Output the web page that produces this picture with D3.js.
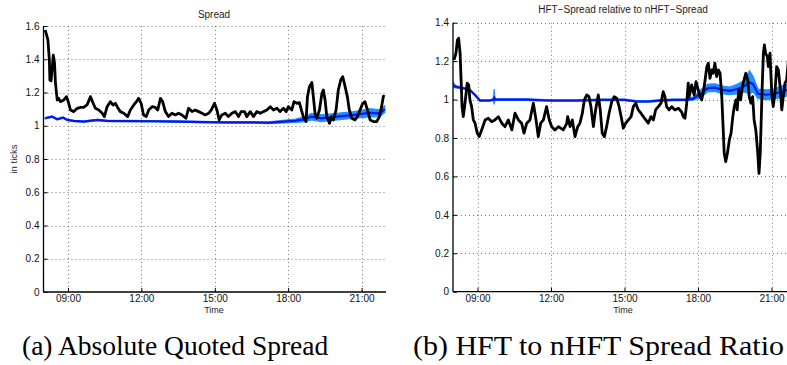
<!DOCTYPE html>
<html>
<head>
<meta charset="utf-8">
<script src="https://cdn.jsdelivr.net/npm/d3@7"></script>
<style>
  html, body { margin: 0; padding: 0; background: #fff; }
  svg { display: block; }
</style>
</head>
<body>
<svg id="chart" width="787" height="365"></svg>
<script>
// ---------------- DATA ----------------
const xTickHours = [9, 12, 15, 18, 21];
const xTickLabels = ["09:00", "12:00", "15:00", "18:00", "21:00"];
const yTicksLeft = [0, 0.2, 0.4, 0.6, 0.8, 1, 1.2, 1.4, 1.6];
const yTicksRight = [0, 0.2, 0.4, 0.6, 0.8, 1, 1.2, 1.4];

// Panel (a): absolute quoted spread, HFT (black) and nHFT (blue)
const leftBlackT = [8.07,8.18,8.24,8.26,8.31,8.40,8.45,8.49,8.56,8.62,8.69,8.83,8.94,9.03,9.10,9.24,9.38,9.51,9.64,9.78,9.92,10.03,10.12,10.26,10.40,10.49,10.60,10.73,10.84,10.94,11.03,11.14,11.28,11.44,11.55,11.69,11.80,11.89,11.99,12.09,12.20,12.30,12.44,12.57,12.67,12.78,12.87,12.98,13.11,13.25,13.39,13.52,13.66,13.82,13.93,14.07,14.20,14.34,14.48,14.61,14.75,14.86,14.99,15.09,15.18,15.29,15.43,15.56,15.70,15.84,15.97,16.08,16.22,16.31,16.45,16.58,16.72,16.86,16.99,17.13,17.27,17.40,17.54,17.67,17.81,17.92,18.01,18.15,18.24,18.36,18.46,18.56,18.62,18.73,18.79,18.87,18.97,19.03,19.10,19.17,19.28,19.38,19.44,19.51,19.58,19.69,19.78,19.85,19.96,20.05,20.15,20.23,20.33,20.42,20.50,20.60,20.73,20.83,20.94,21.05,21.14,21.24,21.35,21.48,21.62,21.73,21.82,21.89,21.92];
const leftBlackV = [1.576,1.516,1.395,1.275,1.27,1.425,1.376,1.255,1.155,1.165,1.145,1.155,1.175,1.135,1.095,1.085,1.105,1.111,1.11,1.125,1.175,1.135,1.105,1.095,1.075,1.055,1.115,1.145,1.125,1.135,1.11,1.085,1.075,1.055,1.095,1.125,1.145,1.165,1.135,1.065,1.055,1.095,1.115,1.11,1.095,1.165,1.145,1.085,1.055,1.075,1.065,1.075,1.065,1.045,1.105,1.085,1.095,1.085,1.075,1.065,1.075,1.095,1.135,1.095,1.035,1.065,1.075,1.055,1.075,1.085,1.055,1.085,1.085,1.055,1.085,1.055,1.085,1.075,1.085,1.095,1.115,1.095,1.105,1.085,1.105,1.085,1.115,1.095,1.145,1.135,1.139,1.085,1.055,1.025,1.175,1.235,1.26,1.175,1.075,1.045,1.095,1.195,1.215,1.155,1.055,1.015,1.055,1.035,1.095,1.215,1.275,1.295,1.235,1.175,1.095,1.045,1.035,1.055,1.095,1.135,1.145,1.095,1.035,1.025,1.025,1.055,1.115,1.175,1.185];
const leftBlueT = [8.07,8.35,8.56,8.8,8.97,9.24,9.65,10.2,10.6,11.5,12.5,13.5,14.5,15.5,16.5,17.2,17.8,18.3,18.7,18.95,19.35,20.0,20.7,21.35,21.75,21.95];
const leftBlueV = [1.045,1.055,1.039,1.049,1.035,1.029,1.025,1.035,1.029,1.028,1.027,1.025,1.022,1.02,1.02,1.018,1.025,1.03,1.04,1.055,1.045,1.055,1.065,1.078,1.075,1.1];
const leftBandW = [0.004,0.004,0.004,0.004,0.004,0.004,0.004,0.004,0.004,0.004,0.004,0.004,0.004,0.004,0.004,0.005,0.008,0.01,0.015,0.02,0.02,0.02,0.02,0.025,0.02,0.02];

// Panel (b): HFT spread relative to nHFT spread
const rightBlackT = [8.04,8.12,8.18,8.23,8.29,8.33,8.37,8.42,8.49,8.58,8.64,8.69,8.76,8.83,8.90,8.99,9.07,9.17,9.31,9.44,9.58,9.71,9.85,9.99,10.12,10.26,10.40,10.53,10.67,10.80,10.90,11.01,11.14,11.28,11.39,11.48,11.58,11.69,11.82,11.93,12.03,12.16,12.30,12.50,12.64,12.68,12.78,12.87,12.98,13.09,13.18,13.28,13.36,13.46,13.55,13.63,13.73,13.82,13.93,14.01,14.09,14.18,14.27,14.37,14.48,14.58,14.68,14.78,14.89,14.95,15.05,15.16,15.27,15.36,15.46,15.56,15.67,15.77,15.87,15.97,16.08,16.18,16.27,16.38,16.49,16.58,16.65,16.72,16.82,16.93,17.06,17.20,17.34,17.40,17.47,17.54,17.60,17.64,17.74,17.84,17.92,18.01,18.08,18.15,18.22,18.29,18.36,18.42,18.49,18.56,18.62,18.69,18.76,18.83,18.90,18.97,19.03,19.07,19.13,19.20,19.28,19.35,19.42,19.48,19.55,19.60,19.66,19.74,19.81,19.88,19.95,20.03,20.09,20.16,20.23,20.29,20.36,20.44,20.49,20.54,20.58,20.62,20.67,20.71,20.76,20.83,20.87,20.94,20.98,21.02,21.07,21.14,21.21,21.28,21.35,21.42,21.48,21.55,21.62,21.70,21.80,21.92];
const rightBlackV = [1.206,1.241,1.31,1.319,1.241,1.102,0.963,0.911,0.981,1.085,1.076,0.998,0.963,0.894,0.877,0.825,0.807,0.842,0.894,0.903,0.885,0.894,0.911,0.877,0.859,0.894,0.842,0.929,0.894,0.877,0.825,0.877,0.894,0.981,0.894,0.807,0.877,0.894,0.963,0.894,0.859,0.842,0.859,0.842,0.875,0.911,0.859,0.894,0.807,0.859,0.877,0.929,0.998,1.024,1.015,0.963,0.859,0.946,1.024,0.946,0.825,0.807,0.859,0.929,0.989,1.015,1.007,0.963,0.894,0.851,0.877,0.894,0.911,0.963,0.981,0.946,0.929,0.911,0.894,0.877,0.911,0.894,0.946,0.963,0.981,1.041,1.015,0.963,0.946,0.963,0.946,0.955,0.933,0.911,0.903,0.981,1.085,1.015,1.076,1.024,1.093,1.05,1.015,0.998,1.041,1.102,1.171,1.189,1.111,1.154,1.137,1.189,1.119,1.154,1.137,1.015,0.842,0.72,0.677,0.72,0.79,0.825,0.911,0.963,0.998,0.946,1.05,0.998,1.067,1.102,1.137,1.102,1.015,0.981,1.015,0.894,0.842,0.72,0.616,0.72,0.894,1.067,1.241,1.284,1.241,1.223,1.171,1.241,1.119,1.015,0.963,1.033,1.171,1.154,1.067,0.946,1.015,1.085,1.102,1.22,1.15,1.1];
const rightBlueT = [8.03,8.1,8.42,8.69,8.9,9.1,9.5,9.65,9.68,9.71,10.0,11.0,12.0,13.0,14.0,15.0,15.5,16.0,16.5,17.0,17.5,17.8,18.1,18.4,18.7,19.0,19.3,19.6,19.9,20.1,20.25,20.45,20.8,21.1,21.4,21.65,22.0];
const rightBlueV = [1.075,1.067,1.059,1.05,1.024,0.995,0.995,1.0,1.015,1.0,1.0,1.0,0.995,0.995,0.998,0.998,0.99,0.99,0.996,0.998,0.998,1.005,1.03,1.06,1.062,1.05,1.045,1.055,1.07,1.09,1.08,1.03,1.025,1.03,1.04,1.05,1.04];
const rightBandW = [0.012,0.006,0.004,0.004,0.004,0.004,0.004,0.004,0.04,0.004,0.004,0.004,0.004,0.004,0.004,0.004,0.004,0.004,0.004,0.004,0.004,0.008,0.02,0.02,0.02,0.02,0.02,0.025,0.03,0.06,0.04,0.025,0.025,0.025,0.03,0.03,0.03];

// ---------------- DRAWING ----------------
const svg = d3.select("#chart");
const sans = '"Liberation Sans", Arial, sans-serif';
const serif = '"Liberation Serif", "Times New Roman", serif';

function panel(cfg) {
  const x = d3.scaleLinear().domain([8, 22]).range([cfg.left, cfg.right]);
  const y = d3.scaleLinear().domain([0, cfg.ymax]).range([cfg.bottom, cfg.top]);
  const g = svg.append("g");
  const gridRight = Math.min(cfg.right, 787);

  // grid
  g.append("g").selectAll("line").data(cfg.yTicks.filter(d => d > 0)).join("line")
    .attr("x1", cfg.left).attr("x2", gridRight)
    .attr("y1", d => Math.round(y(d)) + 0.5).attr("y2", d => Math.round(y(d)) + 0.5)
    .attr("stroke", "#555").attr("stroke-width", 0.8).attr("stroke-dasharray", "1,3");
  g.append("g").selectAll("line").data(xTickHours).join("line")
    .attr("x1", d => Math.round(x(d)) + 0.5).attr("x2", d => Math.round(x(d)) + 0.5)
    .attr("y1", cfg.top).attr("y2", cfg.bottom)
    .attr("stroke", "#555").attr("stroke-width", 0.8).attr("stroke-dasharray", "1,3");

  // band
  const band = cfg.blueT.map((t, i) => ({ t, v: cfg.blueV[i], w: cfg.bandW[i] }));
  g.append("path").datum(band)
    .attr("fill", "#1e90ff").attr("stroke", "#1e90ff").attr("stroke-width", 1.2)
    .attr("d", d3.area().x(d => x(d.t)).y0(d => y(d.v - d.w)).y1(d => y(d.v + d.w)));
  // blue mean
  g.append("path").datum(band)
    .attr("fill", "none").attr("stroke", "#0a14f0").attr("stroke-width", 2.2)
    .attr("d", d3.line().x(d => x(d.t)).y(d => y(d.v)));
  // black
  const blk = cfg.blackT.map((t, i) => ({ t, v: cfg.blackV[i] }));
  g.append("path").datum(blk)
    .attr("fill", "none").attr("stroke", "#000").attr("stroke-width", 2.8)
    .attr("stroke-linejoin", "round")
    .attr("d", d3.line().x(d => x(d.t)).y(d => y(d.v)));

  // axes
  const ay = g.append("g").attr("transform", `translate(${cfg.left},0)`)
    .call(d3.axisLeft(y).tickValues(cfg.yTicks).tickSize(-4).tickPadding(4).tickFormat(d3.format("~g")));
  const ax = g.append("g").attr("transform", `translate(0,${cfg.bottom})`)
    .call(d3.axisBottom(x).tickValues(xTickHours).tickSize(-4).tickPadding(3)
      .tickFormat((d, i) => xTickLabels[i]));
  [ay, ax].forEach(a => {
    a.select(".domain").attr("stroke", "#000").attr("stroke-width", 1.3);
    a.selectAll(".tick line").attr("stroke", "#000");
    a.selectAll("text").style("font-family", sans).style("font-size", "10px").attr("fill", "#111");
  });
  ay.select(".domain").attr("d", `M0,${cfg.top}V${cfg.bottom}`);
  ax.select(".domain").attr("d", `M${cfg.left},0H${gridRight}`);

  // title and x label
  svg.append("text").attr("x", cfg.titleX).attr("y", cfg.titleY).attr("text-anchor", "middle")
    .style("font-family", sans).style("font-size", "10px").attr("fill", "#222").text(cfg.title);
  svg.append("text").attr("x", cfg.timeX).attr("y", 313).attr("text-anchor", "middle")
    .style("font-family", sans).style("font-size", "9px").attr("fill", "#222").text("Time");
  return { x, y };
}

panel({ left: 43.5, right: 386, top: 26, bottom: 292, ymax: 1.6, yTicks: yTicksLeft,
  blackT: leftBlackT, blackV: leftBlackV, blueT: leftBlueT, blueV: leftBlueV, bandW: leftBandW,
  title: "Spread", titleX: 214, titleY: 18, timeX: 214 });
panel({ left: 453, right: 796, top: 22.7, bottom: 291.7, ymax: 1.4, yTicks: yTicksRight,
  blackT: rightBlackT, blackV: rightBlackV, blueT: rightBlueT, blueV: rightBlueV, bandW: rightBandW,
  title: "HFT\u2212Spread relative to nHFT\u2212Spread", titleX: 623, titleY: 13, timeX: 623 });

svg.append("text").attr("transform", "translate(17,159) rotate(-90)").attr("text-anchor", "middle")
  .style("font-family", sans).style("font-size", "9.5px").attr("fill", "#222").text("in ticks");

// captions
svg.append("text").attr("x", 22).attr("y", 355)
  .style("font-family", serif).style("font-size", "27.5px").attr("fill", "#000").text("(a) Absolute Quoted Spread");
svg.append("text").attr("x", 413).attr("y", 355)
  .attr("textLength", 371).attr("lengthAdjust", "spacingAndGlyphs")
  .style("font-family", serif).style("font-size", "28px").attr("fill", "#000").text("(b) HFT to nHFT Spread Ratio");
</script>
</body>
</html>
